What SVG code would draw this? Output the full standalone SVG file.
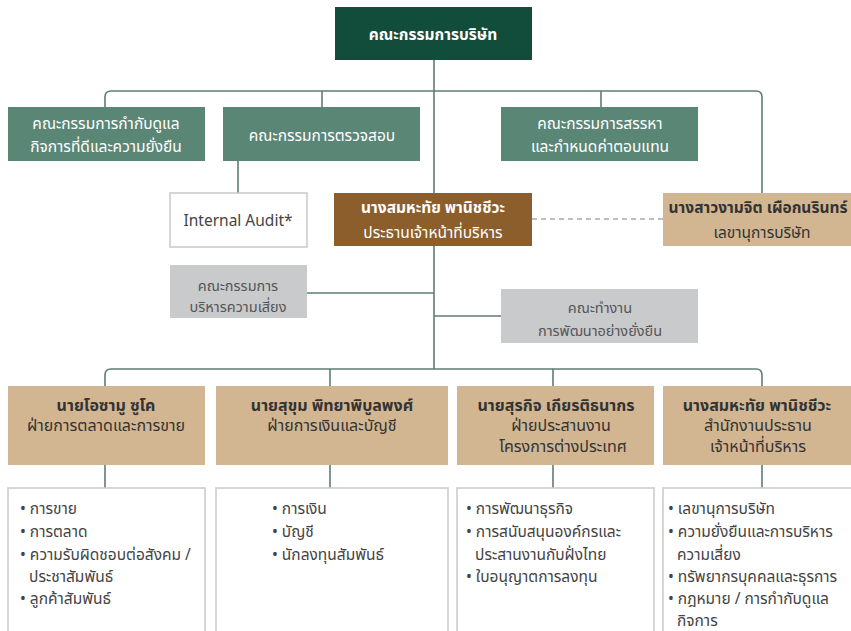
<svg xmlns="http://www.w3.org/2000/svg" width="851" height="631" viewBox="0 0 851 631">
<style>
text{font-family:"Noto Sans","Noto Sans Thai","Liberation Sans",sans-serif;dominant-baseline:central;text-anchor:middle;font-size:15.5px}
.w{fill:#ffffff}
.b{font-weight:bold}
.dk{fill:#333333}
.g{fill:#555555;font-size:14.5px}
.l{text-anchor:start;fill:#444444}
.h{font-size:16px}
.c{fill:none;stroke:#5f7c75;stroke-width:1.6}
.box{stroke:#c9c9c9;stroke-width:1.5;fill:#ffffff}
</style>
<g id="connectors">
<path class="c" d="M434,60 V369"/>
<path class="c" d="M105,107 V97 Q105,91 111,91 H756 Q762,91 762,97 V193"/>
<path class="c" d="M322,91 V107 M601,91 V107 M238,161 V193"/>
<path d="M532,219 H663" stroke="#aaaaaa" stroke-width="1.3" stroke-dasharray="5,4" fill="none"/>
<path class="c" d="M307,293 H434 M434,316 H501"/>
<path class="c" d="M105,386 V375 Q105,369 111,369 H756 Q762,369 762,375 V386"/>
<path class="c" d="M330,369 V386 M553,369 V386"/>
<path class="c" d="M105,465 V488 M330,465 V488 M553,465 V488 M762,465 V488"/>
</g>
<g id="board">
<rect x="335" y="7" width="197" height="53" fill="#124c3a"/>
<text x="433" y="34" class="w b" font-size="16.5">คณะกรรมการบริษัท</text>
</g>
<g id="governance">
<rect x="8" y="107" width="197" height="54" fill="#5a8676"/>
<text x="106" y="123" class="w">คณะกรรมการกำกับดูแล</text>
<text x="106" y="146" class="w">กิจการที่ดีและความยั่งยืน</text>
</g>
<g id="audit-committee">
<rect x="223" y="107" width="197" height="54" fill="#5a8676"/>
<text x="322" y="135" class="w">คณะกรรมการตรวจสอบ</text>
</g>
<g id="nomination">
<rect x="501" y="107" width="197" height="54" fill="#5a8676"/>
<text x="600" y="123" class="w">คณะกรรมการสรรหา</text>
<text x="600" y="146" class="w">และกำหนดค่าตอบแทน</text>
</g>
<g id="internal-audit">
<rect x="170" y="193" width="137" height="54" class="box"/>
<text x="238" y="220" fill="#444444" font-size="14">Internal Audit*</text>
</g>
<g id="ceo">
<rect x="334" y="193" width="198" height="53" fill="#8b5e2c"/>
<text x="433" y="207" class="w b" font-size="16">นางสมหะทัย พานิชชีวะ</text>
<text x="433" y="232" class="w" font-size="16.5">ประธานเจ้าหน้าที่บริหาร</text>
</g>
<g id="secretary">
<rect x="663" y="193" width="190" height="53" fill="#d2b692"/>
<text x="758" y="207" class="dk b" font-size="15">นางสาวงามจิต เผือกนรินทร์</text>
<text x="762" y="232" class="dk" font-size="15">เลขานุการบริษัท</text>
</g>
<g id="risk">
<rect x="170" y="265" width="137" height="53" fill="#c9cacc"/>
<text x="238" y="285" class="g">คณะกรรมการ</text>
<text x="238" y="306" class="g">บริหารความเสี่ยง</text>
</g>
<g id="sustainability">
<rect x="501" y="289" width="197" height="54" fill="#c9cacc"/>
<text x="600" y="307" class="g">คณะทำงาน</text>
<text x="600" y="330" class="g">การพัฒนาอย่างยั่งยืน</text>
</g>
<g id="marketing">
<rect x="8" y="386" width="197" height="79" fill="#d2b692"/>
<text x="106" y="405" class="dk b h">นายโอซามู ซูโค</text>
<text x="106" y="425" class="dk h">ฝ่ายการตลาดและการขาย</text>
<rect x="8" y="488" width="197" height="150" class="box"/>
<text x="20" y="508" class="l">• การขาย</text>
<text x="20" y="531" class="l">• การตลาด</text>
<text x="20" y="554" class="l">• ความรับผิดชอบต่อสังคม /</text>
<text x="29" y="576" class="l">ประชาสัมพันธ์</text>
<text x="20" y="598" class="l">• ลูกค้าสัมพันธ์</text>
</g>
<g id="finance">
<rect x="216" y="386" width="232" height="79" fill="#d2b692"/>
<text x="332" y="405" class="dk b h">นายสุขุม พิทยาพิบูลพงศ์</text>
<text x="332" y="425" class="dk h">ฝ่ายการเงินและบัญชี</text>
<rect x="216" y="488" width="232" height="150" class="box"/>
<text x="272" y="508" class="l">• การเงิน</text>
<text x="272" y="531" class="l">• บัญชี</text>
<text x="272" y="554" class="l">• นักลงทุนสัมพันธ์</text>
</g>
<g id="coordination">
<rect x="457" y="386" width="197" height="79" fill="#d2b692"/>
<text x="556" y="405" class="dk b h">นายสุรกิจ เกียรติธนากร</text>
<text x="561" y="425" class="dk h">ฝ่ายประสานงาน</text>
<text x="563" y="446" class="dk h">โครงการต่างประเทศ</text>
<rect x="457" y="488" width="197" height="150" class="box"/>
<text x="466" y="508" class="l">• การพัฒนาธุรกิจ</text>
<text x="466" y="531" class="l">• การสนับสนุนองค์กรและ</text>
<text x="475" y="554" class="l">ประสานงานกับฝั่งไทย</text>
<text x="466" y="576" class="l">• ใบอนุญาตการลงทุน</text>
</g>
<g id="ceo-office">
<rect x="663" y="386" width="190" height="79" fill="#d2b692"/>
<text x="757" y="405" class="dk b h">นางสมหะทัย พานิชชีวะ</text>
<text x="758" y="425" class="dk h">สำนักงานประธาน</text>
<text x="758" y="446" class="dk h">เจ้าหน้าที่บริหาร</text>
<rect x="663" y="488" width="190" height="150" class="box"/>
<text x="668" y="508" class="l">• เลขานุการบริษัท</text>
<text x="668" y="531" class="l">• ความยั่งยืนและการบริหาร</text>
<text x="677" y="554" class="l">ความเสี่ยง</text>
<text x="668" y="576" class="l">• ทรัพยากรบุคคลและธุรการ</text>
<text x="668" y="598" class="l">• กฎหมาย / การกำกับดูแล</text>
<text x="677" y="620" class="l">กิจการ</text>
</g>
</svg>
